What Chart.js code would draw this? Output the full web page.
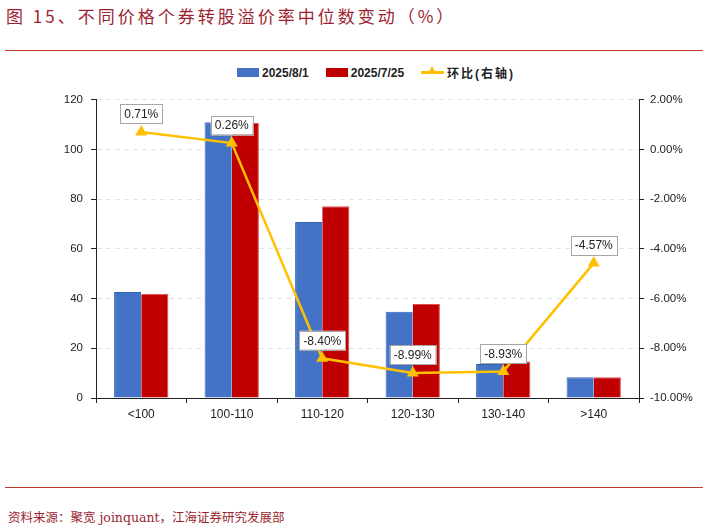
<!DOCTYPE html>
<html>
<head>
<meta charset="utf-8">
<script src="https://cdn.jsdelivr.net/npm/chart.js@4.4.1/dist/chart.umd.min.js"></script>
<style>
  body { margin: 0; width: 709px; height: 530px; background: #fff; position: relative; overflow: hidden; }
  #title { position: absolute; left: 6px; top: 3px; font: 17px "Noto Sans CJK SC", sans-serif; letter-spacing: 3px; color: #9c1f32; }
  .rule { position: absolute; left: 5px; width: 698px; height: 1px; background: #c0392b; }
  #legend { position: absolute; top: 64px; left: 237px; font: bold 12px "Liberation Sans", "Noto Sans CJK SC", sans-serif; color: #222; display: flex; align-items: center; }
  #legend .sw { display: inline-block; width: 22px; height: 9px; margin-right: 3px; }
  #legend .item { display: flex; align-items: center; margin-right: 17px; }
  #legend .ln { position: relative; width: 23px; height: 3px; background: #ffc000; margin-right: 3px; }
  #legend .ln:after { content: ""; position: absolute; left: 7px; top: -5px; border-left: 4.5px solid transparent; border-right: 4.5px solid transparent; border-bottom: 8px solid #ffc000; }
  #legend .cn { letter-spacing: 2px; }
  #wrap { position: absolute; left: 0; top: 85px; width: 709px; height: 350px; }
  #source { position: absolute; left: 8px; top: 507px; font: 12.5px "DejaVu Serif", "Noto Sans CJK SC", serif; color: #9c1f32; }
</style>
</head>
<body>
<div id="title">图 15、不同价格个券转股溢价率中位数变动（%）</div>
<div class="rule" style="top:50px"></div>
<div id="legend">
  <span class="item"><span class="sw" style="background:#4472c4"></span>2025/8/1</span>
  <span class="item"><span class="sw" style="background:#c00000"></span>2025/7/25</span>
  <span class="item"><span class="ln"></span><span class="cn">环比(右轴)</span></span>
</div>
<div id="wrap"><canvas id="chart"></canvas></div>
<div class="rule" style="top:487px"></div>
<div id="source">资料来源：聚宽 joinquant，江海证券研究发展部</div>
<script>
// categories and values
const categories = ['<100', '100-110', '110-120', '120-130', '130-140', '>140'];
const latest = [42.7, 111.0, 70.8, 34.7, 13.7, 8.4];     // 2025/8/1
const previous = [42.0, 110.7, 77.2, 37.8, 14.7, 8.4];   // 2025/7/25
const change = [0.71, 0.26, -8.40, -8.99, -8.93, -4.57]; // 环比, %

const axisFont = { family: 'Liberation Sans', size: 11.5 };

// boxed labels above the line points
const boxLabels = {
  id: 'boxLabels',
  afterDatasetsDraw(chart) {
    const ctx = chart.ctx;
    const meta = chart.getDatasetMeta(2);
    ctx.save();
    ctx.font = '12px "Liberation Sans", sans-serif';
    ctx.textAlign = 'center';
    ctx.textBaseline = 'middle';
    meta.data.forEach((pt, i) => {
      const txt = change[i].toFixed(2) + '%';
      const w = ctx.measureText(txt).width + 8;
      const h = 19;
      const cx = pt.x;
      const cy = pt.y - 18;
      ctx.fillStyle = '#fff';
      ctx.fillRect(cx - w / 2, cy - h / 2, w, h);
      ctx.strokeStyle = '#a6a6a6';
      ctx.lineWidth = 1;
      ctx.strokeRect(Math.round(cx - w / 2) + 0.5, Math.round(cy - h / 2) + 0.5, Math.round(w), h);
      ctx.fillStyle = '#222';
      ctx.fillText(txt, cx, cy + 1);
    });
    ctx.restore();
  }
};

new Chart(document.getElementById('chart'), {
  data: {
    labels: categories,
    datasets: [
      { type: 'bar', label: '2025/8/1', data: latest, backgroundColor: '#4472c4', borderColor: '#2e64b8', borderWidth: { top: 1, left: 1, right: 0, bottom: 0 }, yAxisID: 'y', order: 2, categoryPercentage: 0.6, barPercentage: 1 },
      { type: 'bar', label: '2025/7/25', data: previous, backgroundColor: '#c00000', borderColor: '#e05050', borderWidth: { top: 1, left: 0, right: 1, bottom: 0 }, yAxisID: 'y', order: 2, categoryPercentage: 0.6, barPercentage: 1 },
      { type: 'line', label: '环比(右轴)', data: change, borderColor: '#ffc000', backgroundColor: '#ffc000', borderWidth: 2.5, pointStyle: 'triangle', pointRadius: 4.5, yAxisID: 'y1', order: 1, tension: 0 }
    ]
  },
  options: {
    responsive: true,
    maintainAspectRatio: false,
    animation: false,
    layout: { padding: { top: 9, left: 0, right: 0, bottom: 0 } },
    plugins: { legend: { display: false }, tooltip: { enabled: false } },
    scales: {
      x: {
        grid: { offset: true, drawOnChartArea: false, tickLength: 5, tickColor: '#222' },
        border: { color: '#222' },
        ticks: { color: '#222', font: { family: 'Liberation Sans', size: 12 }, padding: 4 },
        afterFit(s) { s.height = 37; }
      },
      y: {
        position: 'left',
        min: 0, max: 120,
        ticks: { stepSize: 20, color: '#222', font: axisFont, padding: 8 },
        grid: { color: '#e3e3e3', tickColor: '#222', tickLength: 5 },
        border: { color: '#222', dash: [5, 4] },
        afterFit(s) { s.width = 96; }
      },
      y1: {
        position: 'right',
        min: -10, max: 2,
        ticks: { stepSize: 2, color: '#222', font: axisFont, padding: 6, callback: v => v.toFixed(2) + '%' },
        grid: { drawOnChartArea: false, tickColor: '#222', tickLength: 5 },
        border: { color: '#222' },
        afterFit(s) { s.width = 70; }
      }
    }
  },
  plugins: [boxLabels]
});
</script>
</body>
</html>
